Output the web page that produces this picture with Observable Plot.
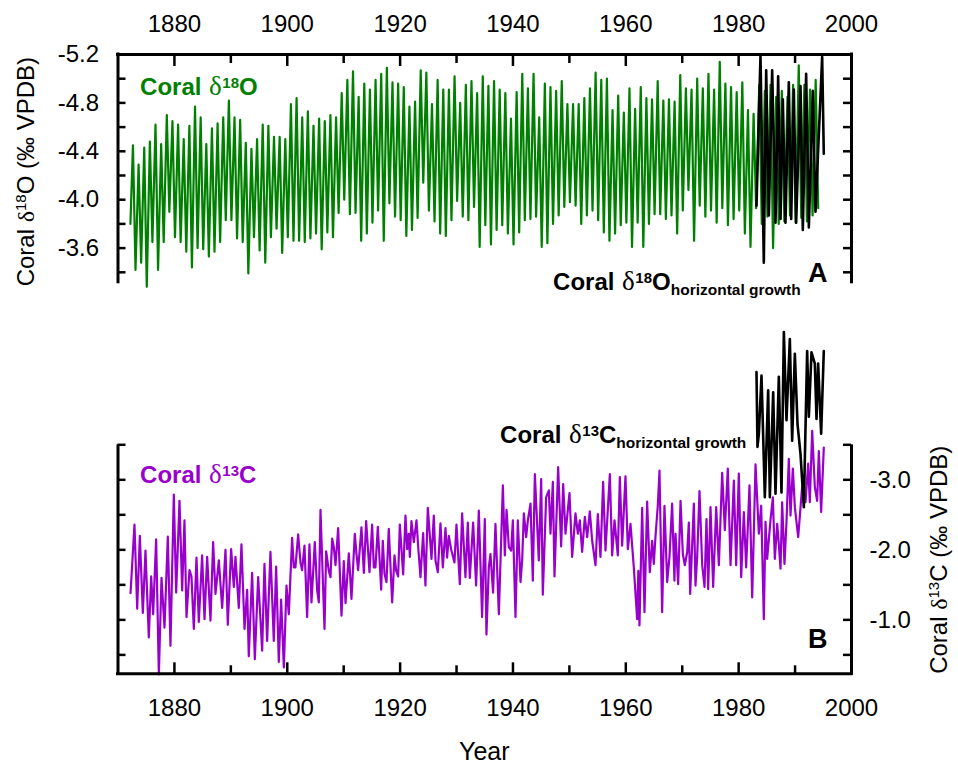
<!DOCTYPE html>
<html><head><meta charset="utf-8">
<script src="https://cdn.jsdelivr.net/npm/d3@7"></script>
<script src="https://cdn.jsdelivr.net/npm/@observablehq/plot@0.6"></script>
<style>
body{margin:0;background:#fff;}
#chart{width:958px;line-height:0;}
#chart svg{display:block;}
</style></head><body><div id="chart"></div>
<script>
// ---------------- data ----------------
const o18Start = [1872.2, -3.80];
const o18FirstYear = 1872;
// annual most-negative (peak) and least-negative (trough) coral d18O values, 1872-1993
const o18Peak = [
 -4.45,-4.29,-4.43,-4.48,-4.62,-4.46,-4.70,-4.65,-4.62,-4.50,
 -4.61,-4.77,-4.68,-4.46,-4.59,-4.63,-4.68,-4.82,-4.68,-4.66,
 -4.47,-4.42,-4.50,-4.62,-4.61,-4.52,-4.52,-4.50,-4.79,-4.84,
 -4.68,-4.73,-4.61,-4.67,-4.65,-4.70,-4.68,-4.88,-4.99,-5.06,
 -4.85,-4.96,-4.91,-4.99,-5.04,-5.09,-4.97,-4.96,-4.93,-4.77,
 -4.81,-5.07,-5.05,-4.79,-4.99,-4.91,-4.91,-5.02,-4.80,-4.95,
 -4.98,-4.88,-5.02,-4.94,-4.98,-4.91,-4.88,-4.67,-4.89,-5.04,
 -4.92,-5.04,-4.68,-4.96,-4.93,-4.90,-4.98,-4.79,-4.79,-4.79,
 -4.84,-4.92,-5.05,-4.99,-5.00,-4.74,-4.86,-4.72,-4.92,-4.75,
 -4.93,-4.84,-4.83,-4.98,-4.82,-4.83,-4.81,-5.03,-4.92,-4.91,
 -5.00,-4.92,-5.04,-4.91,-5.14,-4.96,-4.93,-4.89,-4.97,-4.74,
 -4.71,-4.95,-4.90,-4.95,-4.85,-4.90,-4.85,-4.95,-5.11,-4.95,
 -4.91,-4.99];
const o18Trough = [
 -3.42,-3.48,-3.28,-3.65,-3.42,-3.65,-3.90,-3.69,-3.65,-3.57,
 -3.44,-3.60,-3.59,-3.53,-3.57,-3.65,-3.83,-3.83,-3.68,-3.65,
 -3.39,-3.69,-3.58,-3.48,-3.69,-3.76,-3.56,-3.69,-3.66,-3.66,
 -3.65,-3.68,-3.72,-3.59,-3.73,-3.69,-3.89,-4.00,-3.88,-3.89,
 -3.66,-3.72,-3.81,-3.91,-3.66,-3.97,-3.86,-3.83,-3.70,-3.75,
 -3.85,-4.14,-3.91,-3.82,-3.72,-3.70,-3.83,-3.99,-3.86,-3.83,
 -3.94,-3.61,-3.79,-3.63,-3.75,-3.79,-3.72,-3.63,-3.73,-3.83,
 -3.84,-3.86,-3.61,-3.64,-3.80,-3.87,-3.94,-3.98,-3.95,-3.80,
 -3.87,-3.91,-3.83,-3.73,-3.66,-3.72,-3.79,-3.81,-3.61,-3.81,
 -3.61,-3.80,-3.88,-3.88,-3.84,-3.87,-3.72,-3.91,-4.08,-3.66,
 -3.95,-3.86,-3.91,-3.81,-3.93,-3.79,-3.84,-3.91,-3.72,-3.61,
 -3.93,-3.80,-3.86,-3.60,-3.80,-3.82,-3.87,-3.81,-3.85,-3.82,
 -3.87,-3.93];
// coral d18O, horizontal growth [year, value]
const o18Hg = [
 [1983.16,-3.95],[1983.87,-5.19],[1984.46,-3.48],[1984.88,-5.07],[1985.35,-3.87],
 [1985.94,-5.07],[1986.53,-3.81],[1987.00,-5.02],[1987.42,-3.84],[1987.83,-4.83],
 [1988.30,-3.81],[1988.89,-4.97],[1989.31,-3.84],[1989.78,-4.91],[1990.19,-3.81],
 [1990.96,-4.94],[1991.37,-3.75],[1991.96,-5.04],[1992.44,-3.77],[1993.14,-4.90],
 [1993.62,-3.90],[1994.80,-5.18],[1995.09,-4.38]];
// coral d13C [year, value]
const c13 = [
 [1872.22,-1.38],[1872.92,-2.36],[1873.40,-1.16],[1873.87,-2.20],[1874.40,-1.10],[1874.87,-1.99],
 [1875.46,-0.75],[1875.88,-1.62],[1876.23,-1.08],[1876.76,-2.15],[1877.24,-0.22],[1877.71,-1.60],
 [1878.24,-0.89],[1878.83,-2.19],[1879.30,-0.63],[1879.89,-2.79],[1880.31,-1.39],[1880.90,-2.70],
 [1881.37,-1.42],[1881.78,-2.42],[1882.14,-1.04],[1882.67,-1.71],[1883.02,-1.62],[1883.44,-0.87],
 [1883.91,-1.89],[1884.32,-0.97],[1884.91,-1.92],[1885.33,-1.01],[1885.80,-1.90],[1886.39,-0.99],
 [1886.86,-2.11],[1887.28,-1.37],[1887.87,-1.85],[1888.46,-1.17],[1889.05,-2.00],[1889.46,-0.93],
 [1890.05,-2.01],[1890.53,-1.47],[1890.82,-1.90],[1891.41,-1.17],[1891.88,-2.08],[1892.42,-0.87],
 [1892.89,-1.43],[1893.18,-0.48],[1893.77,-1.67],[1894.25,-0.44],[1894.84,-1.61],[1895.55,-0.56],
 [1895.96,-1.80],[1896.43,-0.70],[1897.02,-1.97],[1897.61,-0.70],[1898.03,-1.76],[1898.50,-0.40],
 [1898.91,-1.29],[1899.39,-0.32],[1899.86,-1.49],[1900.27,-1.08],[1900.86,-2.17],[1901.16,-1.75],
 [1901.45,-1.75],[1901.93,-2.22],[1902.34,-1.82],[1902.63,-1.71],[1903.05,-2.06],[1903.52,-1.04],
 [1903.93,-2.08],[1904.29,-1.25],[1904.88,-2.11],[1905.30,-1.42],[1905.59,-1.25],[1905.89,-2.57],
 [1906.60,-0.87],[1906.89,-1.98],[1907.36,-1.70],[1907.66,-1.61],[1907.96,-2.16],[1908.25,-2.04],
 [1908.55,-1.78],[1909.02,-2.31],[1909.61,-1.06],[1910.02,-1.84],[1910.32,-1.24],[1910.91,-1.95],
 [1911.38,-1.30],[1911.97,-2.23],[1912.27,-1.94],[1912.56,-1.71],[1913.15,-2.32],[1913.57,-1.67],
 [1913.98,-2.41],[1914.57,-1.68],[1915.04,-2.36],[1915.34,-1.75],[1915.63,-1.75],[1916.05,-2.33],
 [1916.64,-1.43],[1916.93,-2.13],[1917.23,-1.66],[1917.58,-1.54],[1917.99,-2.30],[1918.59,-1.25],
 [1919.00,-1.92],[1919.30,-1.70],[1919.65,-1.62],[1919.95,-2.36],[1920.54,-1.65],[1920.95,-2.49],
 [1921.25,-2.01],[1921.54,-2.23],[1921.72,-1.90],[1922.01,-2.41],[1922.43,-2.11],[1922.90,-2.42],
 [1923.19,-2.06],[1923.61,-1.61],[1924.08,-2.24],[1924.49,-1.49],[1924.91,-2.60],[1925.56,-1.87],
 [1925.97,-2.49],[1926.27,-1.85],[1926.68,-1.68],[1927.15,-2.38],[1927.57,-1.75],[1928.04,-2.31],
 [1928.33,-1.89],[1928.63,-2.20],[1929.04,-2.01],[1929.63,-1.82],[1929.99,-2.36],[1930.58,-1.51],
 [1930.99,-2.52],[1931.58,-1.61],[1932.00,-2.39],[1932.35,-1.60],[1932.94,-2.39],[1933.47,-1.49],
 [1933.95,-2.56],[1934.53,-1.04],[1935.01,-2.44],[1935.30,-0.79],[1935.72,-1.75],[1936.01,-1.94],
 [1936.48,-1.39],[1936.90,-2.37],[1937.50,-1.08],[1938.21,-2.92],[1938.56,-1.92],[1938.86,-2.57],
 [1939.27,-2.04],[1939.68,-1.99],[1939.98,-2.42],[1940.45,-1.04],[1940.86,-2.42],[1941.34,-1.54],
 [1941.63,-1.85],[1941.93,-2.52],[1942.34,-2.18],[1942.64,-2.42],[1943.11,-2.66],[1943.52,-1.56],
 [1943.88,-3.08],[1944.58,-1.85],[1945.00,-3.01],[1945.29,-1.36],[1945.88,-2.75],[1946.36,-2.85],
 [1946.65,-2.23],[1947.07,-2.97],[1947.36,-1.62],[1948.01,-3.18],[1948.54,-2.05],[1948.90,-2.94],
 [1949.31,-2.23],[1950.02,-2.81],[1950.49,-1.90],[1951.08,-2.52],[1951.50,-2.23],[1951.85,-2.42],
 [1952.26,-1.97],[1952.74,-2.47],[1953.15,-2.18],[1953.62,-2.55],[1954.04,-2.13],[1954.63,-1.78],
 [1955.04,-2.51],[1955.51,-1.90],[1955.98,-2.97],[1956.40,-1.99],[1957.17,-3.08],[1957.58,-1.92],
 [1958.00,-2.42],[1958.58,-1.92],[1958.94,-3.04],[1959.35,-2.06],[1959.94,-3.05],[1960.36,-2.01],
 [1960.83,-2.37],[1961.42,-1.75],[1962.01,-1.01],[1962.22,-1.70],[1962.42,-0.92],[1962.90,-2.60],
 [1963.31,-1.11],[1963.78,-2.69],[1964.25,-1.68],[1964.67,-2.13],[1964.96,-1.80],[1965.26,-2.19],
 [1965.67,-2.63],[1965.97,-3.13],[1966.44,-1.11],[1966.85,-2.63],[1967.33,-1.54],[1967.74,-1.90],
 [1968.21,-2.66],[1968.62,-1.56],[1968.81,-2.23],[1969.28,-1.51],[1969.70,-2.70],[1970.11,-1.94],
 [1970.46,-1.78],[1970.88,-1.97],[1971.17,-2.39],[1971.41,-1.37],[1972.06,-2.66],[1972.35,-1.49],
 [1972.65,-1.90],[1973.06,-2.84],[1973.54,-1.78],[1973.95,-1.47],[1974.30,-2.44],[1974.60,-1.44],
 [1975.01,-2.61],[1975.48,-1.47],[1976.02,-2.61],[1976.49,-1.78],[1977.08,-3.10],[1977.55,-2.28],
 [1978.08,-3.16],[1978.56,-1.78],[1979.15,-2.99],[1979.56,-1.78],[1980.03,-3.09],[1980.45,-1.61],
 [1980.92,-2.54],[1981.33,-1.75],[1981.92,-2.92],[1982.40,-1.32],[1982.99,-3.22],[1983.58,-2.23],
 [1983.99,-2.63],[1984.46,-1.01],[1984.76,-2.40],[1985.05,-1.87],[1985.64,-2.42],[1986.06,-2.75],
 [1986.41,-1.87],[1986.83,-2.37],[1987.12,-2.08],[1987.42,-1.73],[1987.71,-2.68],[1988.12,-1.80],
 [1988.48,-2.40],[1988.89,-3.30],[1989.19,-2.49],[1989.60,-3.16],[1989.96,-2.61],[1990.55,-2.18],
 [1991.25,-2.90],[1991.85,-2.68],[1992.32,-3.23],[1992.61,-2.68],[1993.03,-3.70],[1993.50,-2.90],
 [1993.91,-2.70],[1994.21,-3.41],[1994.62,-2.54],[1995.09,-3.46]];
// coral d13C, horizontal growth [year, value]
const c13Hg = [
 [1983.16,-4.54],[1983.34,-3.47],[1983.58,-3.66],[1984.05,-4.49],[1984.64,-2.75],[1985.23,-4.28],
 [1985.53,-2.75],[1986.12,-4.25],[1986.53,-2.80],[1987.12,-4.47],[1987.59,-2.82],[1988.01,-5.11],
 [1988.48,-3.85],[1989.07,-5.01],[1989.48,-3.56],[1989.96,-4.80],[1990.43,-3.80],[1990.96,-3.37],
 [1991.55,-2.61],[1992.14,-4.84],[1992.44,-3.90],[1992.91,-4.82],[1993.50,-4.66],[1993.80,-3.87],
 [1994.09,-4.66],[1994.62,-3.66],[1995.09,-4.84]];

// ticks / labels
const yearLabels = [1880, 1900, 1920, 1940, 1960, 1980, 2000];
const yearMinor = [1890, 1910, 1930, 1950, 1970, 1990];
const yearMajor = [1880, 1900, 1920, 1940, 1960, 1980];
const o18Labels = [-5.2, -4.8, -4.4, -4.0, -3.6];
const o18Ticks = [-5.0, -4.8, -4.6, -4.4, -4.2, -4.0, -3.8, -3.6, -3.4];
const c13Labels = [-3.0, -2.0, -1.0];
const c13Ticks = [-3.5, -3.0, -2.5, -2.0, -1.5, -1.0, -0.5];
const xDomain = [1870, 2000];
const o18Domain = [-3.305, -5.2];
const c13Domain = [-0.23, -3.5];

// ---------------- build ----------------
const GREEN = "#008000", PURPLE = "#9900CC";
const FONT = "'Liberation Sans', Arial, Helvetica, sans-serif";
const SERIF = "'Liberation Serif', 'Times New Roman', serif";
const W = 958;

const o18 = [{year: o18Start[0], value: o18Start[1]}];
o18Peak.forEach((p, i) => {
  o18.push({year: o18FirstYear + i + 0.65, value: p});
  o18.push({year: o18FirstYear + i + 1.1, value: o18Trough[i]});
});
const toObj = a => a.map(([year, value]) => ({year, value}));

const M = {left: 117.5, right: 107};
const fw = W - M.left - M.right;

function frameMarks(h, mt, mb, yTop, yBottom, isTop) {
  const fh = h - mt - mb;
  const marks = [
    Plot.ruleX(xDomain, {strokeWidth: 3, insetTop: isTop ? -1.5 : 0, insetBottom: isTop ? 0 : -1.5}),
    Plot.ruleY([isTop ? yTop : yBottom], {strokeWidth: 3, insetLeft: -1.5, insetRight: -1.5}),
  ];
  if (isTop) {
    marks.push(Plot.tickX(yearMajor, {strokeWidth: 2.5, insetBottom: fh - 12}));
    marks.push(Plot.tickX(yearMinor, {strokeWidth: 2.5, insetBottom: fh - 9}));
  } else {
    marks.push(Plot.tickX(yearMajor, {strokeWidth: 2.5, insetTop: fh - 11}));
    marks.push(Plot.tickX(yearMinor, {strokeWidth: 2.5, insetTop: fh - 8}));
  }
  return marks;
}

const H1 = 310, MT1 = 54, MB1 = 26.7;
const topPlot = Plot.plot({
  width: W, height: H1, marginTop: MT1, marginBottom: MB1, marginLeft: M.left, marginRight: M.right,
  style: {fontFamily: FONT, fontSize: "24px", background: "white", overflow: "visible", color: "black"},
  x: {domain: xDomain},
  y: {domain: o18Domain},
  marks: [
    Plot.line(o18, {x: "year", y: "value", stroke: GREEN, strokeWidth: 2.2, strokeLinejoin: "round"}),
    Plot.line(toObj(o18Hg), {x: "year", y: "value", stroke: "black", strokeWidth: 2.6, strokeLinejoin: "round"}),
    ...frameMarks(H1, MT1, MB1, -5.2, -3.305, true),
    Plot.tickY(o18Ticks, {strokeWidth: 2.5, insetRight: fw - 8}),
    Plot.tickY(o18Ticks, {strokeWidth: 2.5, insetLeft: fw - 8}),
    Plot.axisX(yearLabels, {anchor: "top", tickSize: 0, tickPadding: 22.3, tickFormat: "d", fontSize: 24, label: null}),
    Plot.axisY(o18Labels, {anchor: "left", tickSize: 0, tickPadding: 19, tickFormat: d => d.toFixed(1), fontSize: 24, label: null})
  ]
});

const H2 = 460, MT2 = 134.3, MB2 = 96.7;
const botPlot = Plot.plot({
  width: W, height: H2, marginTop: MT2, marginBottom: MB2, marginLeft: M.left, marginRight: M.right,
  style: {fontFamily: FONT, fontSize: "24px", background: "white", overflow: "visible", color: "black"},
  x: {domain: xDomain},
  y: {domain: c13Domain},
  marks: [
    Plot.line(toObj(c13), {x: "year", y: "value", stroke: PURPLE, strokeWidth: 2.2, strokeLinejoin: "round"}),
    Plot.line(toObj(c13Hg), {x: "year", y: "value", stroke: "black", strokeWidth: 2.6, strokeLinejoin: "round"}),
    ...frameMarks(H2, MT2, MB2, -3.5, -0.23, false),
    Plot.tickY(c13Ticks, {strokeWidth: 2.5, insetRight: fw - 8}),
    Plot.tickY(c13Ticks, {strokeWidth: 2.5, insetLeft: fw - 8}),
    Plot.axisX(yearLabels, {anchor: "bottom", tickSize: 0, tickPadding: 25.4, tickFormat: "d", fontSize: 24, label: null}),
    Plot.axisY(c13Labels, {anchor: "right", tickSize: 0, tickPadding: 18, tickFormat: d => d.toFixed(1), fontSize: 24, label: null})
  ]
});

const chart = document.getElementById("chart");
chart.appendChild(topPlot);
chart.appendChild(botPlot);

// rich text annotations (super/subscripts) placed through the plots' scales
function rich(svg, {x, y, rotate = 0, anchor = "start", size, weight = "normal", fill = "black", parts}) {
  const t = d3.select(svg).append("text")
    .attr("transform", `translate(${x},${y})` + (rotate ? ` rotate(${rotate})` : ""))
    .attr("text-anchor", anchor).attr("font-family", FONT).attr("font-size", size)
    .attr("font-weight", weight).attr("fill", fill).style("white-space", "pre");
  let cur = 0;
  for (const p of parts) {
    const s = t.append("tspan").text(p.t);
    const shift = p.shift || 0;
    if (shift !== cur) { s.attr("dy", shift - cur); cur = shift; }
    if (p.dx) s.attr("dx", p.dx);
    if (p.size) s.attr("font-size", p.size);
    if (p.weight) s.attr("font-weight", p.weight);
    if (p.family) s.attr("font-family", p.family);
  }
}
const deltaB = {t: "δ", family: SERIF, weight: "normal", size: 27, dx: 1};
const delta = {t: "δ", family: SERIF, weight: "normal", size: 24};

const tx = topPlot.scale("x"), ty = topPlot.scale("y");
const bx = botPlot.scale("x"), by = botPlot.scale("y");

rich(topPlot, {x: tx.apply(1874.0), y: ty.apply(-4.861), size: 24, weight: "bold", fill: GREEN,
  parts: [{t: "Coral "}, deltaB, {t: "18", size: 15, shift: -7, dx: 0.5}, {t: "O"}]});
rich(topPlot, {x: tx.apply(1947.2), y: ty.apply(-3.25), size: 24, weight: "bold",
  parts: [{t: "Coral "}, deltaB, {t: "18", size: 15, shift: -7, dx: 0.5}, {t: "O"}, {t: "horizontal growth", size: 15.5, shift: 5}]});
rich(topPlot, {x: tx.apply(1992.4), y: ty.apply(-3.318), size: 27, weight: "bold", parts: [{t: "A"}]});

rich(botPlot, {x: bx.apply(1874.0), y: by.apply(-2.947), size: 24, weight: "bold", fill: PURPLE,
  parts: [{t: "Coral "}, deltaB, {t: "13", size: 15, shift: -7, dx: 0.5}, {t: "C"}]});
rich(botPlot, {x: bx.apply(1937.8), y: by.apply(-3.519), size: 24, weight: "bold",
  parts: [{t: "Coral "}, deltaB, {t: "13", size: 15, shift: -7, dx: 0.5}, {t: "C"}, {t: "horizontal growth", size: 15.5, shift: 5}]});
rich(botPlot, {x: bx.apply(1992.4), y: by.apply(-0.586), size: 27, weight: "bold", parts: [{t: "B"}]});

// axis titles
const topMid = (ty.range[0] + ty.range[1]) / 2;
rich(topPlot, {x: tx.range[0] - 84, y: topMid + 3, rotate: -90, anchor: "middle", size: 24,
  parts: [{t: "Coral "}, delta, {t: "18", size: 15, shift: -8}, {t: "O (‰ VPDB)"}]});
const botMid = (by.range[0] + by.range[1]) / 2;
rich(botPlot, {x: bx.range[1] + 96, y: botMid + 1, rotate: -90, anchor: "middle", size: 24,
  parts: [{t: "Coral "}, delta, {t: "13", size: 15, shift: -8}, {t: "C (‰ VPDB)"}]});
rich(botPlot, {x: (bx.range[0] + bx.range[1]) / 2, y: H2 - 10, anchor: "middle", size: 25, parts: [{t: "Year"}]});
</script>
</body></html>
